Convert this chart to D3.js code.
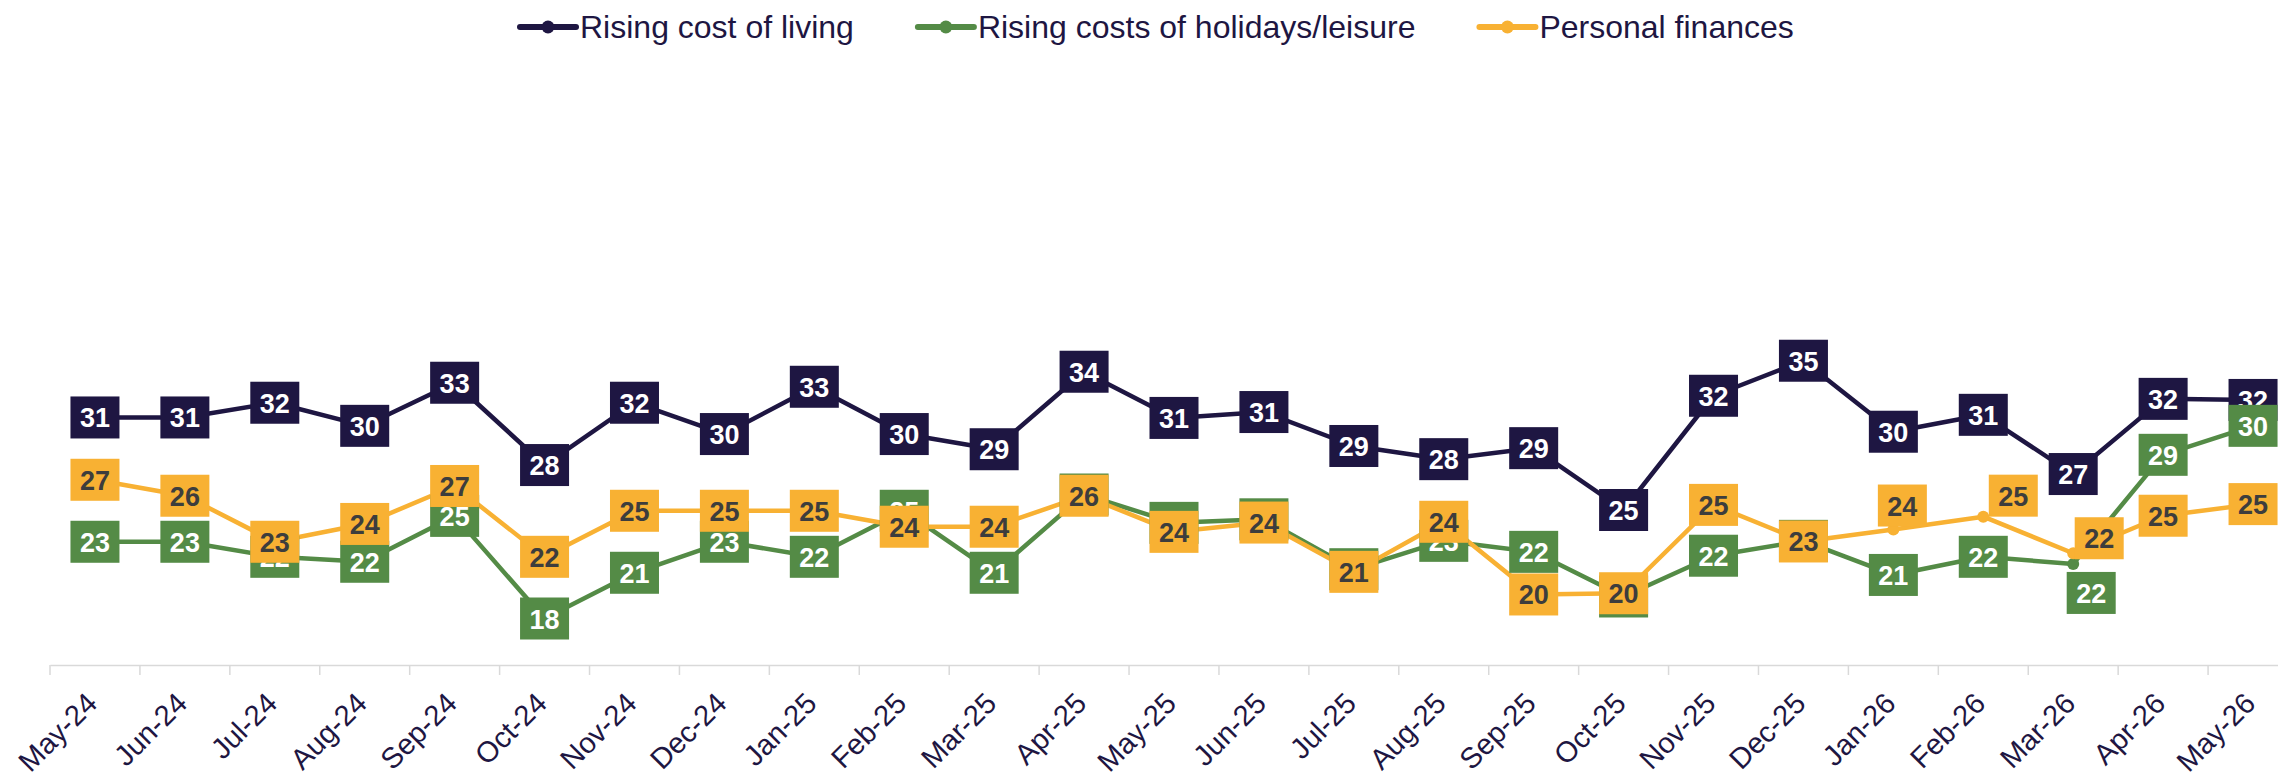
<!DOCTYPE html>
<html>
<head>
<meta charset="utf-8">
<script src="https://cdn.jsdelivr.net/npm/d3@7"></script>
<style>
  body { margin: 0; background: #fff; }
  svg { display: block; font-family: "Liberation Sans", Arial, sans-serif; }
</style>
</head>
<body>
<svg id="chart"></svg>
<script>
// --- Data ---
const months = ["May-24","Jun-24","Jul-24","Aug-24","Sep-24","Oct-24","Nov-24","Dec-24",
  "Jan-25","Feb-25","Mar-25","Apr-25","May-25","Jun-25","Jul-25","Aug-25","Sep-25","Oct-25",
  "Nov-25","Dec-25","Jan-26","Feb-26","Mar-26","Apr-26","May-26"];

const costOfLiving = [30.97, 30.97, 31.92, 30.43, 33.21, 27.9, 31.92, 29.9, 32.95, 29.9, 28.92, 33.92,
  30.94, 31.32, 29.13, 28.28, 28.99, 25.0, 32.37, 34.63, 30.05, 31.14, 27.32, 32.17, 32.1];

const holidaysLeisure = [22.95, 22.95, 21.98, 21.66, 24.62, 18.0, 20.95, 22.95, 21.98, 24.95, 20.95, 26.0,
  24.17, 24.4, 21.18, 23.01, 22.3, 19.42, 22.05, 23.01, 20.81, 21.98, 21.52, 28.56, 30.43];

const personalFinances = [26.95, 25.92, 22.95, 24.1, 26.55, 21.98, 24.95, 24.95, 24.95, 23.92, 23.92, 25.92,
  23.59, 24.19, 21.01, 24.24, 19.55, 19.63, 25.33, 22.97, 23.74, 24.57, 22.21, 24.63, 25.38];

const seriesNames = ["Rising cost of living", "Rising costs of holidays/leisure", "Personal finances"];

// --- Layout ---
const W = 2278, H = 779;
const axisY = 665;
const boxW = 49, boxH = 42;

const series = [
  { name: seriesNames[0], values: costOfLiving, color: "#1e1642", text: "#ffffff" },
  { name: seriesNames[1], values: holidaysLeisure, color: "#548b46", text: "#ffffff" },
  { name: seriesNames[2], values: personalFinances, color: "#f8b133", text: "#3d3d3d" }
];

// manually nudged labels in the original (dx, dy from the point)
const labelShift = {
  "Personal finances|Jan-26": [9, -24],
  "Personal finances|Feb-26": [30, -21],
  "Personal finances|Mar-26": [26, -15],
  "Rising costs of holidays/leisure|Mar-26": [18, 29]
};

const svg = d3.select("#chart").attr("width", W).attr("height", H);

const x = d3.scaleBand().domain(months).range([50, 50 + 25 * 89.92]).padding(0);
const cx = m => x(m) + x.bandwidth() / 2;
const y = d3.scaleLinear().domain([15, 50]).range([axisY, 122.5]);

// --- Axis ---
const gx = svg.append("g")
  .attr("transform", `translate(0,${axisY})`)
  .call(d3.axisBottom(x).tickSize(0).tickSizeOuter(0).tickPadding(0));
gx.select(".domain").attr("stroke", "#d9d9d9").attr("stroke-width", 1.5);
gx.selectAll(".tick text")
  .attr("y", 0).attr("dy", 0)
  .attr("text-anchor", "end")
  .attr("transform", "translate(4,40) rotate(-45)")
  .attr("fill", "#1e1642")
  .style("font-size", "29px")
  .style("font-family", "'Liberation Sans', Arial, sans-serif");

svg.append("g").selectAll("line")
  .data(months)
  .join("line")
  .attr("x1", d => x(d)).attr("x2", d => x(d))
  .attr("y1", axisY).attr("y2", axisY + 10)
  .attr("stroke", "#d9d9d9").attr("stroke-width", 1.5);

// --- Lines & markers ---
const line = d3.line().x((d, i) => cx(months[i])).y(d => y(d));

const lineGroup = svg.append("g");
series.forEach(s => {
  lineGroup.append("path")
    .datum(s.values)
    .attr("d", line)
    .attr("fill", "none")
    .attr("stroke", s.color)
    .attr("stroke-width", 4.5)
    .attr("stroke-linejoin", "round");
  lineGroup.append("g").selectAll("circle")
    .data(s.values)
    .join("circle")
    .attr("cx", (d, i) => cx(months[i]))
    .attr("cy", d => y(d))
    .attr("r", 6)
    .attr("fill", s.color);
});

// --- Data labels ---
const labelGroup = svg.append("g");
series.forEach(s => {
  const g = labelGroup.append("g").selectAll("g")
    .data(s.values.map((v, i) => ({ v, m: months[i] })))
    .join("g")
    .attr("transform", d => {
      const sh = labelShift[s.name + "|" + d.m] || [0, 0];
      return `translate(${cx(d.m) + sh[0]},${y(d.v) + sh[1]})`;
    });
  g.append("rect")
    .attr("x", -boxW / 2).attr("y", -boxH / 2)
    .attr("width", boxW).attr("height", boxH)
    .attr("fill", s.color);
  g.append("text")
    .attr("text-anchor", "middle")
    .attr("y", 10)
    .attr("fill", s.text)
    .style("font-size", "27px")
    .style("font-weight", "bold")
    .text(d => Math.round(d.v));
});

// --- Legend ---
const legend = svg.append("g");
let lx = 520;
series.forEach(s => {
  const item = legend.append("g").attr("transform", `translate(${lx},27)`);
  item.append("line")
    .attr("x1", 0).attr("x2", 56).attr("y1", 0).attr("y2", 0)
    .attr("stroke", s.color).attr("stroke-width", 6).attr("stroke-linecap", "round");
  item.append("circle").attr("cx", 28).attr("cy", 0).attr("r", 6.5).attr("fill", s.color);
  const t = item.append("text")
    .attr("x", 60).attr("y", 11)
    .attr("fill", "#1e1642")
    .style("font-size", "32px")
    .text(s.name);
  lx += 60 + t.node().getComputedTextLength() + 64;
});
</script>
</body>
</html>
